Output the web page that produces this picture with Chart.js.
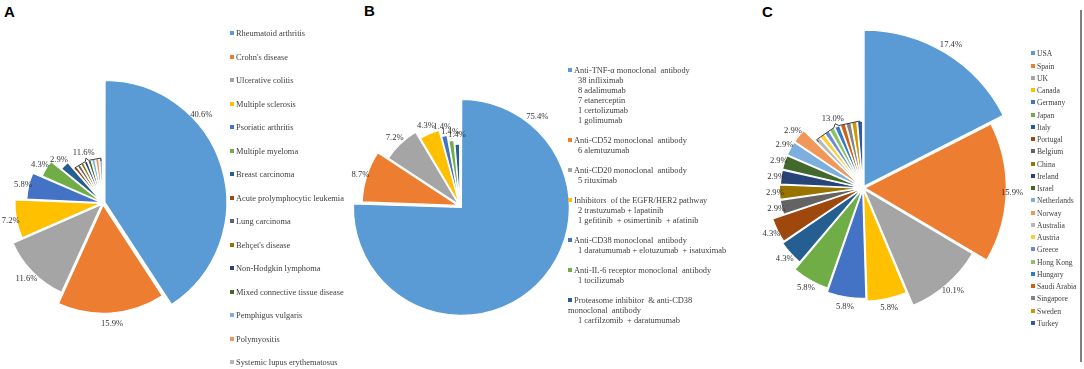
<!DOCTYPE html>
<html>
<head>
<meta charset="utf-8">
<script src="https://cdn.jsdelivr.net/npm/chart.js@4.4.0/dist/chart.umd.min.js"></script>
<style>
  body { margin: 0; width: 1084px; height: 369px; background: #fff; overflow: hidden; position: relative;
         font-family: "Liberation Serif", "Times New Roman", serif; color: #404040; }
  canvas { position: absolute; }
  .letter { position: absolute; font: bold 15px "Liberation Sans", Arial, sans-serif; color: #000; }
  .legend { position: absolute; font-size: 8.4px; line-height: 10px; white-space: pre; z-index: 2; }
  .legend.small { font-size: 7.6px; }
  .legend .row { position: absolute; left: 0; }
  .legend .sw { display: inline-block; width: 4px; height: 4px; margin-right: 2px; vertical-align: 1px; }
  .legend .sub { padding-left: 10px; }
  .rule { position: absolute; left: 1080px; top: 10px; width: 2px; height: 352px; background: #7f7f7f; }
</style>
</head>
<body>
<div class="letter" style="left:4px;top:3px">A</div>
<div class="letter" style="left:364px;top:2px">B</div>
<div class="letter" style="left:762px;top:3px">C</div>

<canvas id="pieA" width="400" height="400" style="left:-97px;top:3px"></canvas>
<canvas id="pieB" width="400" height="400" style="left:260px;top:6px"></canvas>
<canvas id="pieC" width="400" height="400" style="left:663px;top:-12px"></canvas>

<div class="legend" id="legA" style="left:230px;top:0"></div>
<div class="legend" id="legB" style="left:568px;top:0"></div>
<div class="legend small" id="legC" style="left:1031px;top:0"></div>
<div class="rule"></div>

<script>
// A: diseases
const diseases = ['Rheumatoid arthritis', "Crohn's disease", 'Ulcerative colitis', 'Multiple sclerosis',
  'Psoriatic arthritis', 'Multiple myeloma', 'Breast carcinoma', 'Acute prolymphocytic leukemia',
  'Lung carcinoma', "Behçet's disease", 'Non-Hodgkin lymphoma', 'Mixed connective tissue disease',
  'Pemphigus vulgaris', 'Polymyositis', 'Systemic lupus erythematosus'];
const diseasePct = [40.6, 15.9, 11.6, 7.2, 5.8, 4.3, 2.9, 1.4, 1.4, 1.4, 1.4, 1.4, 1.4, 1.4, 1.4];
const diseaseOtherPct = 11.6;

// B: drug classes
const drugClasses = ['Anti-TNF-α monoclonal  antibody', 'Anti-CD52 monoclonal  antibody',
  'Anti-CD20 monoclonal  antibody', 'Inhibitors  of the EGFR/HER2 pathway', 'Anti-CD38 monoclonal  antibody',
  'Anti-IL-6 receptor monoclonal  antibody', 'Proteasome inhibitor  & anti-CD38\nmonoclonal  antibody'];
const drugClassPct = [75.4, 8.7, 7.2, 4.3, 1.4, 1.4, 1.4];
const drugAgents = [
  ['38 infliximab', '8 adalimumab', '7 etanerceptin', '1 certolizumab', '1 golimumab'],
  ['6 alemtuzumab'],
  ['5 rituximab'],
  ['2 trastuzumab + lapatinib', '1 gefitinib  + osimertinib  + afatinib'],
  ['1 daratumumab + elotuzumab  + isatuximab'],
  ['1 tocilizumab'],
  ['1 carfilzomib  + daratumumab']
];

// C: countries
const countries = ['USA', 'Spain', 'UK', 'Canada', 'Germany', 'Japan', 'Italy', 'Portugal', 'Belgium',
  'China', 'Ireland', 'Israel', 'Netherlands', 'Norway', 'Australia', 'Austria', 'Greece', 'Hong Kong',
  'Hungary', 'Saudi Arabia', 'Singapore', 'Sweden', 'Turkey'];
const countryPct = [17.4, 15.9, 10.1, 5.8, 5.8, 5.8, 4.3, 4.3, 2.9, 2.9, 2.9, 2.9, 2.9, 2.9,
  1.4, 1.4, 1.4, 1.4, 1.4, 1.4, 1.4, 1.4, 1.4];
const countryOtherPct = 13.0;

// office palette
const colors = ['#5B9BD5', '#ED7D31', '#A5A5A5', '#FFC000', '#4472C4', '#70AD47', '#255E91', '#9E480E',
  '#636363', '#997300', '#264478', '#43682B', '#7CAFDD', '#F1975A', '#B7B7B7', '#FFCD33', '#698ED0',
  '#8CC168', '#327DC2', '#D26012', '#848484', '#CC9A00', '#335AA1'];

// slice radius (px) and label tweaks, per panel
const shapeA = { radii: [121, 108, 96, 85, 73, 63, 50, 41, 41, 41, 41, 41, 41, 41, 41],
  labelAngle: {0: 48}, groupFrom: 7, groupText: diseaseOtherPct.toFixed(1) + '%' };
const shapeB = { radii: [106, 95, 83, 75, 68, 62, 58], labelAngle: {0: 41} };
const shapeC = { radii: [156, 141, 125, 110, 107, 103, 94, 92, 80, 80, 79, 79, 79, 79,
  63, 63, 63, 63, 63, 63, 63, 63, 63], groupFrom: 14, groupText: countryOtherPct.toFixed(1) + '%' };

function slicePlugin(shape) {
  return {
    id: 'sliceShape',
    beforeDatasetsDraw(chart) {
      chart.getDatasetMeta(0).data.forEach((arc, i) => { arc.outerRadius = shape.radii[i]; });
    },
    afterDatasetsDraw(chart) {
      const ctx = chart.ctx;
      const arcs = chart.getDatasetMeta(0).data;
      const vals = chart.data.datasets[0].data;
      const last = shape.groupFrom != null ? shape.groupFrom : arcs.length;
      ctx.save();
      ctx.font = '8.6px "Liberation Serif"';
      ctx.fillStyle = '#333333';
      ctx.textAlign = 'center';
      ctx.textBaseline = 'middle';
      for (let i = 0; i < last; i++) {
        const arc = arcs[i];
        let a = (arc.startAngle + arc.endAngle) / 2;
        if (shape.labelAngle && shape.labelAngle[i] != null) a = shape.labelAngle[i] * Math.PI / 180 - Math.PI / 2;
        // text is wider than tall: sit closer on the sides
        const r = arc.outerRadius + 8 + 5 * Math.abs(Math.sin(a));
        ctx.fillText(vals[i].toFixed(1) + '%', arc.x + Math.cos(a) * r, arc.y + Math.sin(a) * r);
      }
      if (shape.groupFrom != null) {
        const cx = arcs[0].x, cy = arcs[0].y;
        const a0 = arcs[shape.groupFrom].startAngle + 0.03;
        const a1 = arcs[arcs.length - 1].endAngle - 0.05;
        const am = (a0 + a1) / 2;
        const r = shape.radii[shape.groupFrom] + 4;
        const pt = (a, rr) => [cx + Math.cos(a) * rr, cy + Math.sin(a) * rr];
        ctx.strokeStyle = '#404040';
        ctx.lineWidth = 1;
        ctx.beginPath();
        ctx.moveTo(...pt(a0, r - 3));
        ctx.lineTo(...pt(a0, r));
        ctx.lineTo(...pt(am - 0.04, r));
        ctx.lineTo(...pt(am, r + 3));
        ctx.lineTo(...pt(am + 0.04, r));
        ctx.lineTo(...pt(a1, r));
        ctx.lineTo(...pt(a1, r - 3));
        ctx.stroke();
        ctx.fillText(shape.groupText, ...pt(am, r + 9));
      }
      ctx.restore();
    }
  };
}

function makePie(id, labels, values, shape) {
  return new Chart(document.getElementById(id), {
    type: 'pie',
    data: {
      labels: labels,
      datasets: [{
        data: values,
        backgroundColor: colors.slice(0, values.length),
        borderColor: '#ffffff',
        borderWidth: 1.2,
        offset: 8
      }]
    },
    options: {
      responsive: false,
      animation: false,
      events: [],
      layout: { padding: 0 },
      plugins: { legend: { display: false }, tooltip: { enabled: false } }
    },
    plugins: [slicePlugin(shape)]
  });
}

makePie('pieA', diseases, diseasePct, shapeA);
makePie('pieB', drugClasses, drugClassPct, shapeB);
makePie('pieC', countries, countryPct, shapeC);

// legends
function addRow(box, top, html) {
  const d = document.createElement('div');
  d.className = 'row';
  d.style.top = top + 'px';
  d.innerHTML = html;
  box.appendChild(d);
  return d;
}
function swatch(c) { return '<span class="sw" style="background:' + c + '"></span>'; }
function esc(s) { return s.replace(/&/g, '&amp;').replace(/</g, '&lt;'); }

const legA = document.getElementById('legA');
diseases.forEach((name, i) => addRow(legA, 29 + i * 23.5, swatch(colors[i]) + esc(name)));

const legC = document.getElementById('legC');
countries.forEach((name, i) => addRow(legC, 49.3 + i * 12.25, swatch(colors[i]) + esc(name)));

const legB = document.getElementById('legB');
let y = 66;
drugClasses.forEach((name, i) => {
  const heads = name.split('\n');
  addRow(legB, y, swatch(colors[i]) + esc(heads[0]));
  y += 10;
  heads.slice(1).forEach(h => { addRow(legB, y, esc(h)); y += 10; });
  drugAgents[i].forEach(s => { addRow(legB, y, '<span class="sub">' + esc(s) + '</span>'); y += 10; });
  y += 10;
});
</script>
</body>
</html>
